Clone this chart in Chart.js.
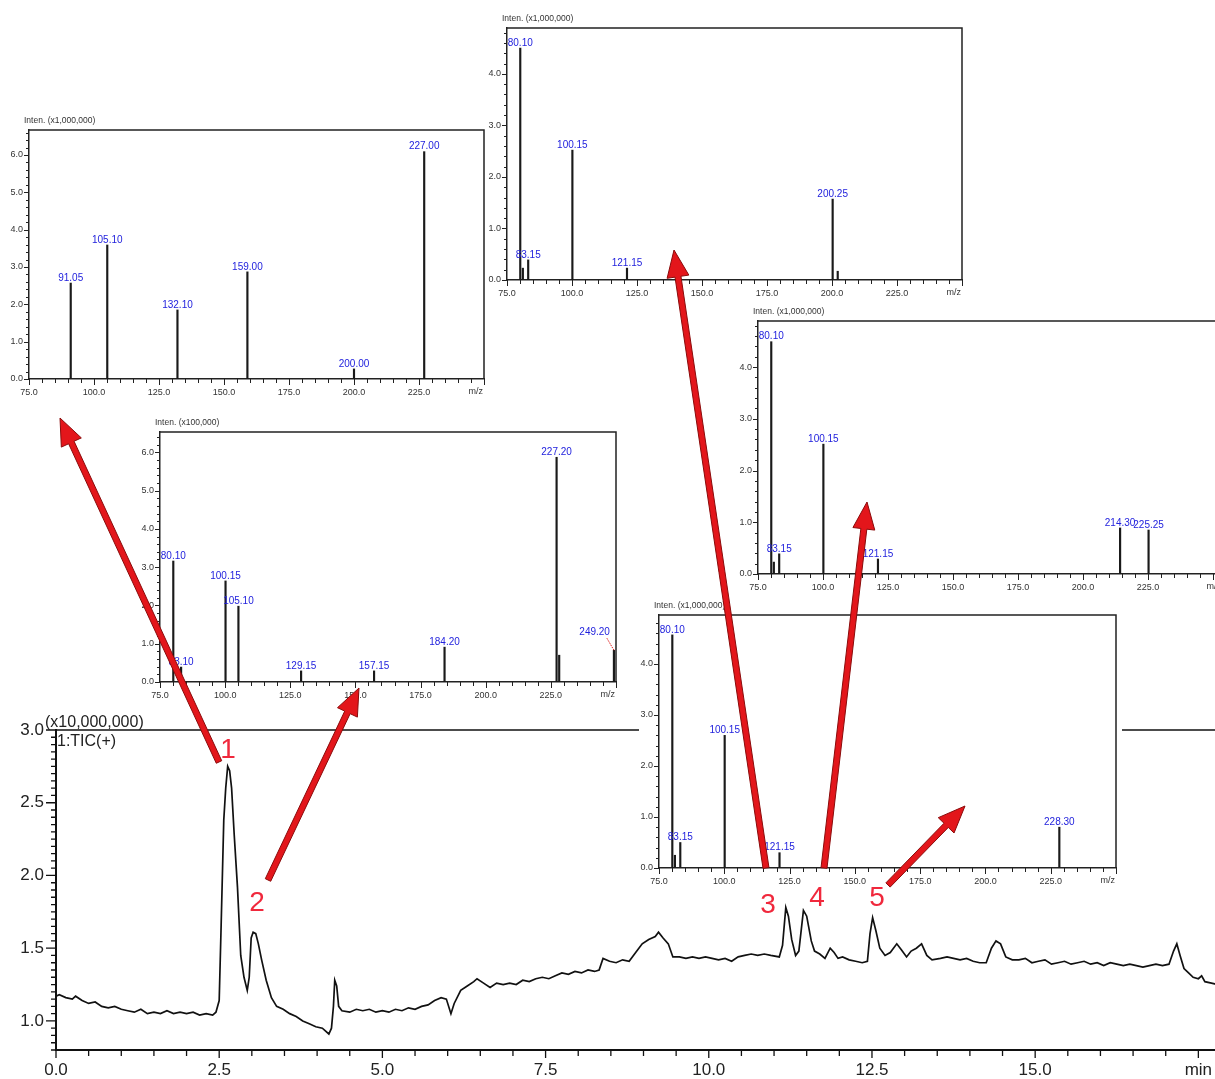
<!DOCTYPE html>
<html lang="en">
<head>
<meta charset="UTF-8">
<title>TIC et spectres de masse</title>
<script src="https://cdn.jsdelivr.net/npm/chart.js@4.4.0/dist/chart.umd.min.js"></script>
<style>
    html, body { margin: 0; padding: 0; background: #fff; }
    body { width: 1215px; height: 1079px; overflow: hidden; position: relative; }
    canvas { position: absolute; }
    #tic { left: 0; top: 700px; z-index: 1; }
    .ms { z-index: 2; }
    #fleches { left: 0; top: 0; z-index: 10; pointer-events: none; }
</style>
</head>
<body>

<canvas id="tic" width="1240" height="379"></canvas>
<canvas id="msA" class="ms"></canvas>
<canvas id="msB" class="ms"></canvas>
<canvas id="msC" class="ms"></canvas>
<canvas id="msD" class="ms"></canvas>
<canvas id="msE" class="ms"></canvas>
<canvas id="fleches" width="1215" height="1079"></canvas>

<script>
// chromatogramme TIC (temps en min, intensite x10,000,000)
const ticTemps = [0.00, 0.05, 0.15, 0.25, 0.30, 0.40, 0.50, 0.60, 0.70, 0.80, 0.90, 1.00, 1.10, 1.20, 1.30, 1.40, 1.50, 1.60, 1.70, 1.80, 1.90, 2.00, 2.10, 2.20, 2.30, 2.40,
    2.45, 2.50, 2.53, 2.57, 2.60, 2.63, 2.66, 2.69, 2.73, 2.78, 2.83, 2.88, 2.93, 2.96, 2.99, 3.02, 3.06, 3.10, 3.15, 3.22, 3.30, 3.38, 3.48, 3.58, 3.68, 3.78, 3.88, 3.98,
    4.08, 4.18, 4.22, 4.25, 4.27, 4.30, 4.33, 4.38, 4.50, 4.60, 4.70, 4.80, 4.90, 5.00, 5.10, 5.20, 5.30, 5.40, 5.50, 5.60, 5.70, 5.80, 5.90, 5.98, 6.05, 6.10, 6.20,
    6.30, 6.40, 6.45, 6.55, 6.65, 6.75, 6.85, 6.95, 7.05, 7.15, 7.25, 7.35, 7.45, 7.55, 7.65, 7.75, 7.85, 7.95, 8.05, 8.15, 8.25, 8.32, 8.38, 8.48, 8.58, 8.68, 8.78,
    8.88, 8.98, 9.08, 9.18, 9.23, 9.30, 9.38, 9.45, 9.55, 9.65, 9.75, 9.85, 9.95, 10.05, 10.15, 10.25, 10.35, 10.45, 10.55, 10.65, 10.75, 10.85, 10.95, 11.08, 11.13,
    11.18, 11.22, 11.27, 11.33, 11.38, 11.45, 11.50, 11.57, 11.62, 11.70, 11.78, 11.86, 11.92, 11.98, 12.05, 12.15, 12.25, 12.35, 12.43, 12.47, 12.51, 12.56, 12.62,
    12.70, 12.78, 12.88, 12.95, 13.03, 13.10, 13.18, 13.26, 13.34, 13.42, 13.55, 13.65, 13.75, 13.85, 13.95, 14.05, 14.15, 14.25, 14.33, 14.40, 14.47, 14.55, 14.65,
    14.75, 14.85, 14.95, 15.05, 15.15, 15.25, 15.35, 15.45, 15.55, 15.65, 15.75, 15.85, 15.95, 16.05, 16.15, 16.25, 16.35, 16.45, 16.55, 16.65, 16.75, 16.85, 16.95,
    17.05, 17.12, 17.17, 17.22, 17.28, 17.35, 17.42, 17.50, 17.55, 17.60, 17.70, 17.80, 17.90, 18.00];
const ticIntensite = [1.17, 1.18, 1.16, 1.15, 1.17, 1.14, 1.12, 1.13, 1.10, 1.09, 1.10, 1.08, 1.07, 1.06, 1.08, 1.05, 1.06, 1.05, 1.07, 1.05, 1.06, 1.05, 1.06, 1.04, 1.05, 1.04,
    1.06, 1.14, 1.66, 2.38, 2.60, 2.75, 2.72, 2.60, 2.28, 1.92, 1.45, 1.30, 1.21, 1.30, 1.57, 1.61, 1.60, 1.53, 1.42, 1.28, 1.16, 1.10, 1.08, 1.05, 1.03, 1.00, 0.98, 0.96,
    0.95, 0.91, 0.95, 1.10, 1.28, 1.24, 1.10, 1.07, 1.06, 1.08, 1.07, 1.08, 1.06, 1.07, 1.06, 1.08, 1.07, 1.09, 1.08, 1.10, 1.11, 1.14, 1.16, 1.15, 1.05, 1.12, 1.21,
    1.24, 1.27, 1.29, 1.26, 1.23, 1.26, 1.25, 1.26, 1.25, 1.28, 1.27, 1.29, 1.30, 1.29, 1.31, 1.33, 1.32, 1.34, 1.33, 1.35, 1.34, 1.35, 1.43, 1.41, 1.40, 1.42, 1.41,
    1.47, 1.53, 1.56, 1.58, 1.61, 1.57, 1.53, 1.44, 1.44, 1.43, 1.44, 1.43, 1.44, 1.43, 1.42, 1.43, 1.41, 1.44, 1.45, 1.46, 1.45, 1.46, 1.45, 1.44, 1.52,
    1.78, 1.72, 1.56, 1.45, 1.48, 1.76, 1.72, 1.55, 1.48, 1.46, 1.43, 1.50, 1.47, 1.43, 1.44, 1.42, 1.41, 1.40, 1.41, 1.60, 1.71, 1.62, 1.50,
    1.45, 1.47, 1.53, 1.49, 1.44, 1.48, 1.50, 1.53, 1.45, 1.42, 1.43, 1.44, 1.43, 1.42, 1.43, 1.41, 1.40, 1.40, 1.50, 1.55, 1.53, 1.44, 1.42,
    1.42, 1.43, 1.40, 1.41, 1.42, 1.39, 1.40, 1.41, 1.39, 1.40, 1.41, 1.39, 1.40, 1.38, 1.40, 1.39, 1.38, 1.39, 1.38, 1.37, 1.38, 1.39, 1.38,
    1.39, 1.48, 1.53, 1.45, 1.36, 1.33, 1.30, 1.29, 1.31, 1.27, 1.26, 1.25, 1.24, 1.25];
const ticGraduationsX = [0, 2.5, 5, 7.5, 10, 12.5, 15, 17.5];
const ticEtiquettesX = ['0.0', '2.5', '5.0', '7.5', '10.0', '12.5', '15.0', 'min'];
const ticGraduationsY = [1.0, 1.5, 2.0, 2.5, 3.0];

// spectres de masse (m/z, intensite, etiquette)
const mzA = [91.05, 105.10, 132.10, 159.00, 200.00, 227.00];
const intA = [2.57, 3.59, 1.85, 2.87, 0.27, 6.09];
const etqA = ['91.05', '105.10', '132.10', '159.00', '200.00', '227.00'];

const mzB = [80.10, 81.10, 83.15, 100.15, 121.15, 200.25, 202.20];
const intB = [4.50, 0.23, 0.39, 2.52, 0.23, 1.57, 0.17];
const etqB = ['80.10', '', '83.15', '100.15', '121.15', '200.25', ''];

const mzC = [80.10, 81.10, 83.15, 100.15, 121.15, 214.30, 225.25];
const intC = [4.49, 0.23, 0.39, 2.51, 0.29, 0.89, 0.85];
const etqC = ['80.10', '', '83.15', '100.15', '121.15', '214.30', '225.25'];

const mzD = [80.10, 83.10, 100.15, 105.10, 129.15, 157.15, 184.20, 227.20, 228.20, 249.20];
const intD = [3.16, 0.39, 2.64, 1.98, 0.29, 0.29, 0.91, 5.87, 0.70, 0.83];
const etqD = ['80.10', '83.10', '100.15', '105.10', '129.15', '157.15', '184.20', '227.20', '', '249.20'];

const mzE = [80.10, 81.10, 83.15, 100.15, 121.15, 228.30];
const intE = [4.57, 0.25, 0.50, 2.60, 0.30, 0.80];
const etqE = ['80.10', '', '83.15', '100.15', '121.15', '228.30'];

const mzGraduations = [75, 100, 125, 150, 175, 200, 225];

const policeNarrow = "'Liberation Sans Narrow', 'Liberation Sans', Arial, sans-serif";
const policeTic = "'Liberation Sans', Arial, sans-serif";


// ---- chromatogramme ----
const ticDecor = {
    id: 'ticDecor',
    afterDraw(c) {
        const ctx = c.ctx, a = c.chartArea, x = c.scales.x, y = c.scales.y;
        ctx.save();
        ctx.strokeStyle = '#111';
        ctx.lineWidth = 1.6;
        ctx.beginPath();
        ctx.moveTo(a.left, a.top);
        ctx.lineTo(a.right, a.top);
        ctx.stroke();

        ctx.lineWidth = 1.3;
        ctx.beginPath();
        for (let k = 0; k <= 36; k++) {
            let px = x.getPixelForValue(k * 0.5);
            let lg = (k % 5 === 0) ? 8 : 6;
            ctx.moveTo(px, a.bottom);
            ctx.lineTo(px, a.bottom + lg);
        }
        for (let k = 16; k <= 60; k++) {
            let py = y.getPixelForValue(k * 0.05);
            let lg = (k % 10 === 0) ? 10 : 5;
            ctx.moveTo(a.left, py);
            ctx.lineTo(a.left - lg, py);
        }
        ctx.stroke();

        ctx.fillStyle = '#222';
        ctx.font = '16px ' + policeTic;
        ctx.textBaseline = 'alphabetic';
        ctx.fillText('(x10,000,000)', 45, 27);
        ctx.fillText('1:TIC(+)', 57, 46);
        ctx.restore();
    }
};

new Chart(document.getElementById('tic'), {
    type: 'line',
    data: {
        datasets: [{
            data: ticTemps.map((t, i) => ({x: t, y: ticIntensite[i]})),
            borderColor: '#111',
            borderWidth: 1.7,
            pointRadius: 0,
            tension: 0,
            fill: false
        }]
    },
    options: {
        animation: false,
        responsive: false,
        events: [],
        layout: {padding: {top: 30, right: 9, left: 0, bottom: 0}},
        plugins: {legend: {display: false}, tooltip: {enabled: false}},
        scales: {
            x: {
                type: 'linear', min: 0, max: 18,
                afterFit: s => { s.height = 29; },
                afterBuildTicks: s => { s.ticks = ticGraduationsX.map(v => ({value: v})); },
                ticks: {
                    autoSkip: false, maxRotation: 0, padding: 10, color: '#222',
                    font: {family: policeTic, size: 17},
                    callback: (v) => ticEtiquettesX[ticGraduationsX.indexOf(v)]
                },
                grid: {display: false, drawTicks: false},
                border: {color: '#111', width: 2}
            },
            y: {
                min: 0.8, max: 3.0,
                afterFit: s => { s.width = 56; },
                afterBuildTicks: s => { s.ticks = ticGraduationsY.map(v => ({value: v})); },
                ticks: {
                    padding: 12, color: '#222',
                    font: {family: policeTic, size: 17},
                    callback: (v) => v.toFixed(1)
                },
                grid: {display: false, drawTicks: false},
                border: {color: '#111', width: 2}
            }
        }
    },
    plugins: [ticDecor]
});


// ---- spectres de masse ----
const msDecor = {
    id: 'msDecor',
    beforeDraw(c) {
        // fond blanc, sans empieter sur le spectre voisin a gauche
        const a = c.chartArea;
        c.ctx.save();
        c.ctx.fillStyle = '#fff';
        c.ctx.fillRect(a.left - 20, 0, c.width, c.height);
        c.ctx.restore();
    },
    afterDraw(c, args, opts) {
        const ctx = c.ctx, a = c.chartArea, x = c.scales.x, y = c.scales.y;
        ctx.save();
        ctx.strokeStyle = '#222';
        ctx.lineWidth = 1.5;
        ctx.beginPath();
        ctx.moveTo(a.left, a.top);
        ctx.lineTo(a.right, a.top);
        ctx.lineTo(a.right, a.bottom);
        ctx.stroke();

        ctx.lineWidth = 1;
        ctx.beginPath();
        for (let m = 75; m <= 250; m += 5) {
            let px = Math.round(x.getPixelForValue(m)) + 0.5;
            let lg = (m % 25 === 0) ? 6 : 4;
            ctx.moveTo(px, a.bottom);
            ctx.lineTo(px, a.bottom + lg);
        }
        for (let k = 0; k * 0.2 <= y.max; k++) {
            let py = Math.round(y.getPixelForValue(k * 0.2)) + 0.5;
            let lg = (k % 5 === 0) ? 5 : 3;
            ctx.moveTo(a.left, py);
            ctx.lineTo(a.left - lg, py);
        }
        ctx.stroke();

        ctx.fillStyle = '#333';
        ctx.font = '8.5px ' + policeNarrow;
        ctx.textAlign = 'left';
        ctx.textBaseline = 'bottom';
        ctx.fillText(opts.unite, a.left - 5, a.top - 5);
        ctx.font = '9px ' + policeNarrow;
        ctx.textAlign = 'right';
        ctx.textBaseline = 'top';
        ctx.fillText('m/z', a.right - 1, a.bottom + 8);

        // etiquettes des pics
        const meta = c.getDatasetMeta(0);
        ctx.font = '10px ' + policeNarrow;
        ctx.fillStyle = '#2222dd';
        ctx.textBaseline = 'bottom';
        ctx.textAlign = 'center';
        meta.data.forEach((bar, i) => {
            const t = opts.etiquettes[i];
            if (!t) return;
            const w = ctx.measureText(t).width;
            if (bar.x + w / 2 > a.right - 2) {
                const lx = bar.x - w / 2 - 4, ly = bar.y - 13;
                ctx.fillText(t, lx, ly);
                ctx.save();
                ctx.strokeStyle = '#e02020';
                ctx.lineWidth = 1;
                ctx.setLineDash([1.5, 1]);
                ctx.beginPath();
                ctx.moveTo(lx + w / 2 - 3, ly + 1);
                ctx.lineTo(bar.x, bar.y);
                ctx.stroke();
                ctx.restore();
            } else {
                ctx.fillText(t, bar.x, bar.y);
            }
        });
        ctx.restore();
    }
};

function spectre(id, cadre, mz, inten, etiquettes, unite) {
    const padL = 32, padT = 20, padR = 6, padB = 24;
    const cv = document.getElementById(id);
    cv.width = cadre.r - cadre.l + padL + padR;
    cv.height = cadre.b - cadre.t + padT + padB;
    cv.style.left = (cadre.l - padL) + 'px';
    cv.style.top = (cadre.t - padT) + 'px';
    const yTicks = [];
    for (let v = 0; v <= cadre.ymax; v += 1) yTicks.push(v);

    return new Chart(cv, {
        type: 'bar',
        data: {
            datasets: [{
                data: mz.map((m, i) => ({x: m, y: inten[i]})),
                backgroundColor: '#1a1a1a',
                barThickness: 1.5,
                borderWidth: 0
            }]
        },
        options: {
            animation: false,
            responsive: false,
            events: [],
            layout: {padding: {top: padT, right: padR, left: 0, bottom: 0}},
            plugins: {
                legend: {display: false},
                tooltip: {enabled: false},
                msDecor: {etiquettes: etiquettes, unite: unite}
            },
            scales: {
                x: {
                    type: 'linear', min: 75, max: cadre.xmax || 250, offset: false,
                    afterFit: s => { s.height = padB; },
                    afterBuildTicks: s => { s.ticks = mzGraduations.map(v => ({value: v})); },
                    ticks: {
                        autoSkip: false, maxRotation: 0, padding: 8, color: '#333',
                        font: {family: policeNarrow, size: 9},
                        callback: v => v.toFixed(1)
                    },
                    grid: {display: false, drawTicks: false},
                    border: {color: '#222', width: 1.5}
                },
                y: {
                    min: 0, max: cadre.ymax,
                    afterFit: s => { s.width = padL; },
                    afterBuildTicks: s => { s.ticks = yTicks.map(v => ({value: v})); },
                    ticks: {
                        padding: 6, color: '#333',
                        font: {family: policeNarrow, size: 9},
                        callback: v => v.toFixed(1)
                    },
                    grid: {display: false, drawTicks: false},
                    border: {color: '#222', width: 1.5}
                }
            }
        },
        plugins: [msDecor]
    });
}

spectre('msA', {l: 29, t: 130, r: 484, b: 379, ymax: 6.67}, mzA, intA, etqA, 'Inten. (x1,000,000)');
spectre('msB', {l: 507, t: 28, r: 962, b: 280, ymax: 4.89}, mzB, intB, etqB, 'Inten. (x1,000,000)');
spectre('msC', {l: 758, t: 321, r: 1222, b: 574, ymax: 4.89, xmax: 253.5}, mzC, intC, etqC, 'Inten. (x1,000,000)');
spectre('msD', {l: 160, t: 432, r: 616, b: 682, ymax: 6.53}, mzD, intD, etqD, 'Inten. (x100,000)');
spectre('msE', {l: 659, t: 615, r: 1116, b: 868, ymax: 4.96}, mzE, intE, etqE, 'Inten. (x1,000,000)');


// ---- fleches rouges et numeros des pics ----
const fleches = [
    [219, 762, 60, 418],
    [268, 880, 359, 688],
    [766, 868, 674, 250],
    [824, 868, 867, 502],
    [888, 885, 965, 806]
];
const numeros = [['1', 228, 750], ['2', 257, 903], ['3', 768, 905], ['4', 817, 898], ['5', 877, 898]];

let dessineFleche = (ctx, x1, y1, x2, y2) => {
    const L = Math.hypot(x2 - x1, y2 - y1);
    const ux = (x2 - x1) / L, uy = (y2 - y1) / L;
    const nx = -uy, ny = ux;
    const demi = 3, tete = 27, large = 11;
    const bx = x2 - ux * tete, by = y2 - uy * tete;
    ctx.beginPath();
    ctx.moveTo(x1 + nx * demi, y1 + ny * demi);
    ctx.lineTo(bx + nx * demi, by + ny * demi);
    ctx.lineTo(bx + nx * large, by + ny * large);
    ctx.lineTo(x2, y2);
    ctx.lineTo(bx - nx * large, by - ny * large);
    ctx.lineTo(bx - nx * demi, by - ny * demi);
    ctx.lineTo(x1 - nx * demi, y1 - ny * demi);
    ctx.closePath();
    ctx.fillStyle = '#e3161b';
    ctx.fill();
    ctx.strokeStyle = '#8a0a0a';
    ctx.lineWidth = 1;
    ctx.stroke();
};

let ctxF = document.getElementById('fleches').getContext('2d');
fleches.forEach(f => dessineFleche(ctxF, f[0], f[1], f[2], f[3]));
ctxF.fillStyle = '#f0283c';
ctxF.font = '28px ' + policeTic;
ctxF.textAlign = 'center';
ctxF.textBaseline = 'middle';
numeros.forEach(n => ctxF.fillText(n[0], n[1], n[2]));
</script>
</body>
</html>
